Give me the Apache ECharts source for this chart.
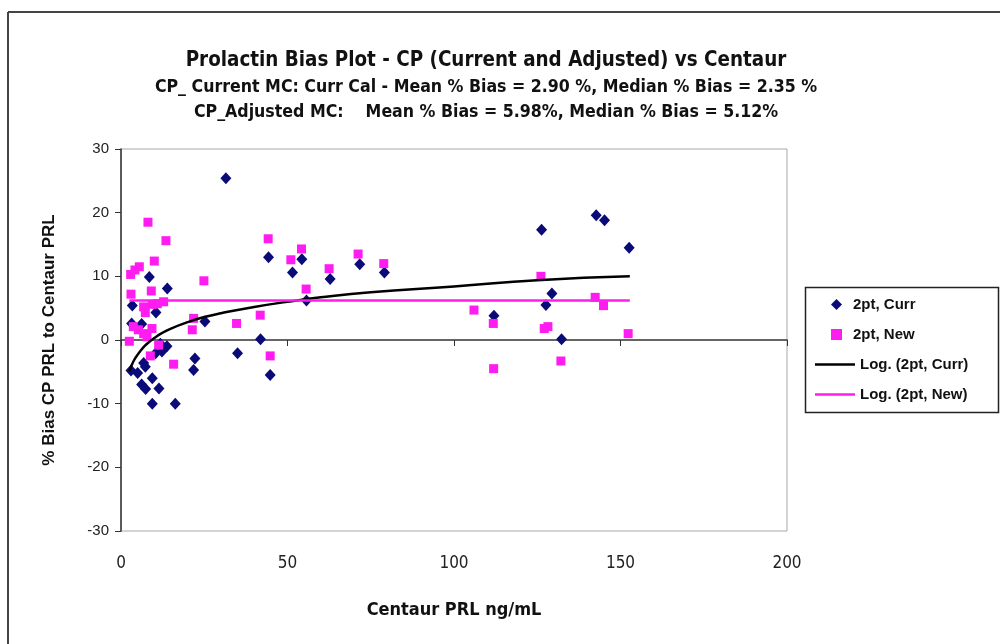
<!DOCTYPE html>
<html>
<head>
<meta charset="utf-8">
<script src="https://cdn.jsdelivr.net/npm/echarts@6/dist/echarts.min.js"></script>
<style>
html,body{margin:0;padding:0;background:#fff;}
#chart{width:1000px;height:644px;}
</style>
</head>
<body>
<div id="chart"></div>
<script>
const titleLines = [
  'Prolactin Bias Plot - CP (Current and Adjusted) vs Centaur',
  'CP_ Current MC: Curr Cal - Mean % Bias = 2.90 %, Median % Bias = 2.35 %',
  'CP_Adjusted MC:    Mean % Bias = 5.98%, Median % Bias = 5.12%'
];
const xAxisName = 'Centaur PRL ng/mL';
const yAxisName = '% Bias CP PRL to Centaur PRL';
const seriesNames = ['2pt, Curr', '2pt, New', 'Log. (2pt, Curr)', 'Log. (2pt, New)'];

const currPoints = [
  [31.5,25.4],[44.3,13.0],[51.5,10.6],[54.3,12.7],[62.8,9.6],[71.7,11.9],[79.1,10.6],[55.7,6.2],
  [8.5,9.9],[13.9,8.1],[3.4,5.4],[10.5,4.3],[3.2,2.6],[6.2,2.5],[25.2,2.9],[41.9,0.1],
  [35.0,-2.1],[22.2,-2.9],[21.8,-4.7],[44.8,-5.5],[13.8,-1.0],[12.3,-1.8],[10.4,-2.1],[11.8,-0.6],
  [3.0,-4.8],[5.0,-5.2],[6.8,-3.6],[7.3,-4.2],[9.4,-6.0],[6.2,-7.0],[7.4,-7.7],[11.4,-7.6],
  [9.4,-10.0],[16.3,-10.0],[112.0,3.8],[126.3,17.3],[129.4,7.3],[127.6,5.5],[132.3,0.1],
  [142.7,19.6],[145.2,18.8],[152.6,14.5]
];
const newPoints = [
  [8.1,18.5],[13.5,15.6],[10.0,12.4],[5.5,11.5],[4.2,11.0],[2.9,10.3],[3.0,7.2],[9.1,7.7],
  [6.8,5.2],[7.3,4.3],[9.4,5.6],[10.9,5.7],[12.8,6.0],[3.7,2.1],[5.2,1.6],[6.8,1.0],[9.3,1.8],
  [7.8,0.5],[2.5,-0.2],[8.8,-2.5],[11.3,-0.8],[15.8,-3.8],[24.9,9.3],[21.8,3.4],[21.4,1.6],
  [34.7,2.6],[41.8,3.9],[44.2,15.9],[44.8,-2.5],[51.0,12.6],[54.2,14.3],[55.6,8.0],[62.5,11.2],
  [71.2,13.5],[78.9,12.0],[106.0,4.7],[111.8,2.6],[111.9,-4.5],[126.1,10.0],[127.1,1.8],
  [128.2,2.1],[132.1,-3.3],[142.4,6.7],[144.9,5.4],[152.3,1.0]
];
const currTrend = [
  [2.5,-4.9],[3,-4.2],[4,-3.1],[5,-2.3],[6,-1.6],[7,-1.0],[8,-0.5],[10,0.3],[12,1.0],[15,1.8],
  [20,2.8],[25,3.6],[30,4.2],[40,5.2],[50,6.0],[60,6.7],[75,7.5],[100,8.4],[125,9.4],[152.8,10.0]
];
const newTrend = [[2.5,6.2],[152.8,6.2]];

const xTicks = [0, 50, 100, 150, 200];
const yTicks = [-30, -20, -10, 0, 10, 20, 30];

const narrow = "'Liberation Sans Narrow','Arial Narrow','DejaVu Sans Condensed',sans-serif";
const arial = "'Liberation Sans',Arial,sans-serif";

const chart = echarts.init(document.getElementById('chart'));
chart.setOption({
  animation: false,
  backgroundColor: '#fff',
  title: [
    {text: titleLines[0], left: 486, textAlign: 'center', top: 51, padding: 0,
     textStyle: {fontFamily: narrow, fontWeight: 'bold', fontSize: 20.4, color: '#111'}},
    {text: titleLines[1], left: 486, textAlign: 'center', top: 78, padding: 0,
     textStyle: {fontFamily: narrow, fontWeight: 'bold', fontSize: 17.6, color: '#111'}},
    {text: titleLines[2], left: 486, textAlign: 'center', top: 103, padding: 0,
     textStyle: {fontFamily: narrow, fontWeight: 'bold', fontSize: 17.6, color: '#111'}}
  ],
  grid: {left: 121, right: 213, top: 149, bottom: 113, show: true, borderColor: '#a8a8a8', borderWidth: 1, backgroundColor: 'transparent'},
  xAxis: [
    {type: 'value', min: xTicks[0], max: xTicks[xTicks.length-1], interval: 50,
     axisLine: {show: true, onZero: true, lineStyle: {color: '#333', width: 1.5}},
     axisTick: {show: true, inside: false, length: 6, lineStyle: {color: '#333'}},
     axisLabel: {show: false}, splitLine: {show: false}},
    {type: 'value', position: 'bottom', min: xTicks[0], max: xTicks[xTicks.length-1], interval: 50,
     axisLine: {show: false, onZero: false}, axisTick: {show: false}, splitLine: {show: false},
     axisLabel: {show: true, margin: 24, fontFamily: narrow, fontSize: 17, color: '#222'},
     name: xAxisName, nameLocation: 'middle', nameGap: 70,
     nameTextStyle: {fontFamily: narrow, fontWeight: 'bold', fontSize: 18, color: '#111'}}
  ],
  yAxis: {
    type: 'value', min: yTicks[0], max: yTicks[yTicks.length-1], interval: 10,
    axisLine: {show: true, onZero: false, lineStyle: {color: '#333', width: 1.5}},
    axisTick: {show: true, length: 6, lineStyle: {color: '#333'}},
    splitLine: {show: false},
    axisLabel: {margin: 12, fontFamily: arial, fontSize: 15, color: '#222'},
    name: yAxisName, nameLocation: 'middle', nameGap: 63, nameRotate: 90,
    nameTextStyle: {fontFamily: arial, fontWeight: 'bold', fontSize: 17, color: '#111'}
  },
  legend: [
    {orient: 'vertical', left: 826, top: 291, itemWidth: 11, itemHeight: 11, itemGap: 13,
     data: [seriesNames[0], seriesNames[1]],
     textStyle: {fontFamily: arial, fontWeight: 'bold', fontSize: 15, color: '#111', lineHeight: 17, padding: [0,0,0,6]}},
    {orient: 'vertical', left: 810, top: 351, itemWidth: 40, itemHeight: 2.5, itemGap: 13, icon: 'rect',
     data: [seriesNames[2], seriesNames[3]],
     textStyle: {fontFamily: arial, fontWeight: 'bold', fontSize: 15, color: '#111', lineHeight: 17}}
  ],
  graphic: [
    {type: 'rect', shape: {x: 805.5, y: 287.5, width: 193, height: 125}, style: {fill: 'none', stroke: '#222', lineWidth: 1.5}, z: 1},
    {type: 'line', shape: {x1: 8, y1: 12, x2: 1000, y2: 12}, style: {stroke: '#444', lineWidth: 2}},
    {type: 'line', shape: {x1: 8, y1: 12, x2: 8, y2: 644}, style: {stroke: '#444', lineWidth: 2}}
  ],
  series: [
    {name: seriesNames[0], type: 'scatter', xAxisIndex: 0, data: currPoints, symbol: 'diamond', symbolSize: [11, 12],
     itemStyle: {color: '#0a0a78', opacity: 1}, z: 3},
    {name: seriesNames[1], type: 'scatter', xAxisIndex: 0, data: newPoints, symbol: 'rect', symbolSize: 9,
     itemStyle: {color: '#ff1cf0', opacity: 1}, z: 4},
    {name: seriesNames[2], type: 'line', xAxisIndex: 0, data: currTrend, smooth: true, showSymbol: false, symbol: 'none',
     lineStyle: {color: '#000', width: 2.5}, itemStyle: {color: '#000'}, z: 5},
    {name: seriesNames[3], type: 'line', xAxisIndex: 0, data: newTrend, showSymbol: false, symbol: 'none',
     lineStyle: {color: '#ff1cf0', width: 2.5}, itemStyle: {color: '#ff1cf0'}, z: 5}
  ]
});
</script>
</body>
</html>
